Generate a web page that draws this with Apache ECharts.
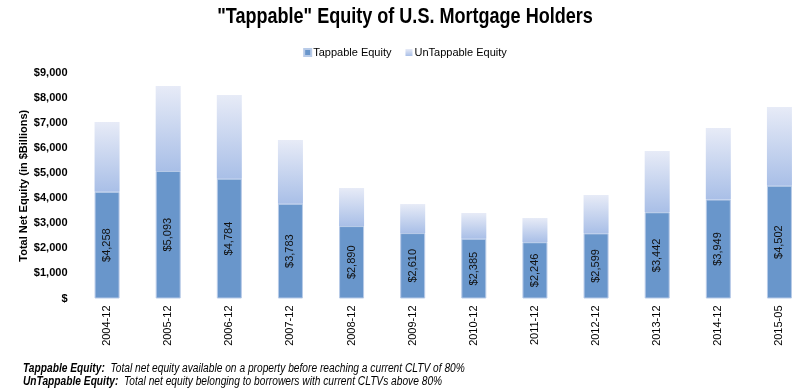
<!DOCTYPE html>
<html>
<head>
<meta charset="utf-8">
<script src="https://cdn.jsdelivr.net/npm/echarts@6/dist/echarts.min.js"></script>
<style>html,body{margin:0;padding:0;background:#fff}#c{width:810px;height:392px}</style>
</head>
<body>
<div id="c"></div>
<script>
const categories = ['2004-12','2005-12','2006-12','2007-12','2008-12','2009-12','2010-12','2011-12','2012-12','2013-12','2014-12','2015-05'];
const tappable = [4258, 5093, 4784, 3783, 2890, 2610, 2385, 2246, 2599, 3442, 3949, 4502];
const untappable = [2785, 3387, 3336, 2542, 1520, 1160, 1027, 966, 1531, 2444, 2855, 3140];
const yTicks = { min: 0, max: 9000, interval: 1000 };

const sans = '"Liberation Sans", Arial, sans-serif';
const fmt = v => v === 0 ? '$' : '$' + v.toLocaleString('en-US');

const chart = echarts.init(document.getElementById('c'), null, { renderer: 'canvas' });
chart.setOption({
  animation: false,
  legend: {
    top: 42, left: 'center',
    itemWidth: 7, itemHeight: 7, itemGap: 14,
    icon: 'rect',
    textStyle: { fontFamily: sans, fontSize: 11, color: '#000', padding: [0, 0, 0, -3] },
    data: ['Tappable Equity', 'UnTappable Equity']
  },
  grid: { left: 76.5, right: -10, top: 73, bottom: 93.5, containLabel: false },
  xAxis: {
    type: 'category', data: categories,
    axisLine: { show: false }, axisTick: { show: false },
    axisLabel: { rotate: 90, margin: 7, fontFamily: sans, fontSize: 11, color: '#000' }
  },
  yAxis: {
    type: 'value', min: yTicks.min, max: yTicks.max, interval: yTicks.interval,
    splitLine: { show: false }, axisLine: { show: false }, axisTick: { show: false },
    axisLabel: { formatter: fmt, fontFamily: sans, fontSize: 11, fontWeight: 'bold', color: '#000', margin: 9 },
    name: 'Total Net Equity (in $Billions)', nameLocation: 'middle', nameGap: 47,
    nameMoveOverlap: false,
    nameTextStyle: { fontFamily: sans, fontSize: 11, fontWeight: 'bold', color: '#000' }
  },
  series: [
    {
      name: 'Tappable Equity', type: 'bar', stack: 'eq', barWidth: 25,
      data: tappable,
      itemStyle: { color: '#6996cb', borderColor: '#b8cbe8', borderWidth: 1 },
      label: {
        show: true, position: 'inside', rotate: 90,
        formatter: p => '$' + p.value.toLocaleString('en-US'),
        fontFamily: sans, fontSize: 11, color: '#111'
      }
    },
    {
      name: 'UnTappable Equity', type: 'bar', stack: 'eq', barWidth: 25,
      data: untappable,
      itemStyle: {
        color: new echarts.graphic.LinearGradient(0, 0, 0, 1, [
          { offset: 0, color: '#e7ebf7' },
          { offset: 1, color: '#a9bfe7' }
        ])
      }
    }
  ],
  graphic: [
    {
      type: 'text', x: 405, y: 17, scaleX: 0.82,
      style: {
        text: '"Tappable" Equity of U.S. Mortgage Holders',
        fontFamily: sans, fontSize: 22, fontWeight: 'bold', fill: '#000',
        align: 'center', verticalAlign: 'middle'
      }
    },
    {
      type: 'text', x: 23, y: 362, scaleX: 0.85,
      style: {
        text: '{b|Tappable Equity:}  Total net equity available on a property before reaching a current CLTV of 80%\n{b|UnTappable Equity:}  Total net equity belonging to borrowers with current CLTVs above 80%',
        fontFamily: sans, fontSize: 12, fontStyle: 'italic', fill: '#000', lineHeight: 13,
        rich: { b: { fontFamily: sans, fontSize: 12, fontStyle: 'italic', fontWeight: 'bold', fill: '#000' } }
      }
    }
  ]
});
</script>
</body>
</html>
